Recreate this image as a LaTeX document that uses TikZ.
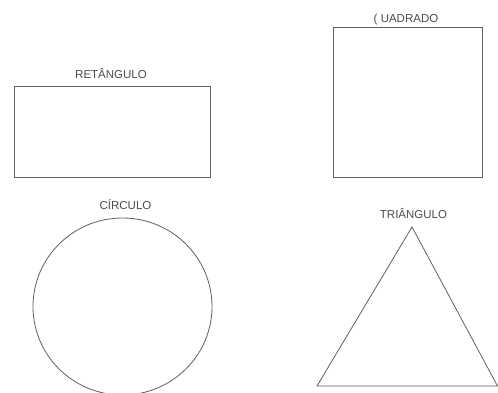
\documentclass[tikz,border=0pt]{standalone}
\usepackage{fontspec}
\setmainfont{Liberation Sans}
\begin{document}
\begin{tikzpicture}[x=1pt,y=-1pt,
  shapeline/.style={draw=gray!75!black,line width=0.8pt},
  lbl/.style={anchor=base,inner sep=0pt,text=gray!60!black,font=\fontsize{11.5}{13}\selectfont}]
\useasboundingbox (0,0) rectangle (498,392);
\clip (0,0) rectangle (498,392);
\fill[white] (0,0) rectangle (498,392);
% labels
\node[lbl] (lret) at (111,78) {RETÂNGULO};
\node[lbl] (lqua) at (406,22) {( UADRADO};
\node[lbl] (lcir) at (125.5,209) {CÍRCULO};
\node[lbl] (ltri) at (413.5,218) {TRIÂNGULO};
% shapes
\draw[shapeline] (14,86) rectangle (210.5,177);
\draw[shapeline] (333,27) rectangle (482,177);
\draw[shapeline] (122.5,306.5) ellipse [x radius=89.5, y radius=88.5];
\coordinate (ta) at (412,227);
\coordinate (tl) at (317,386);
\coordinate (tr) at (497.5,386);
\draw[shapeline,line join=miter] (ta) -- (tl) -- (tr) -- cycle;
\end{tikzpicture}
\end{document}
